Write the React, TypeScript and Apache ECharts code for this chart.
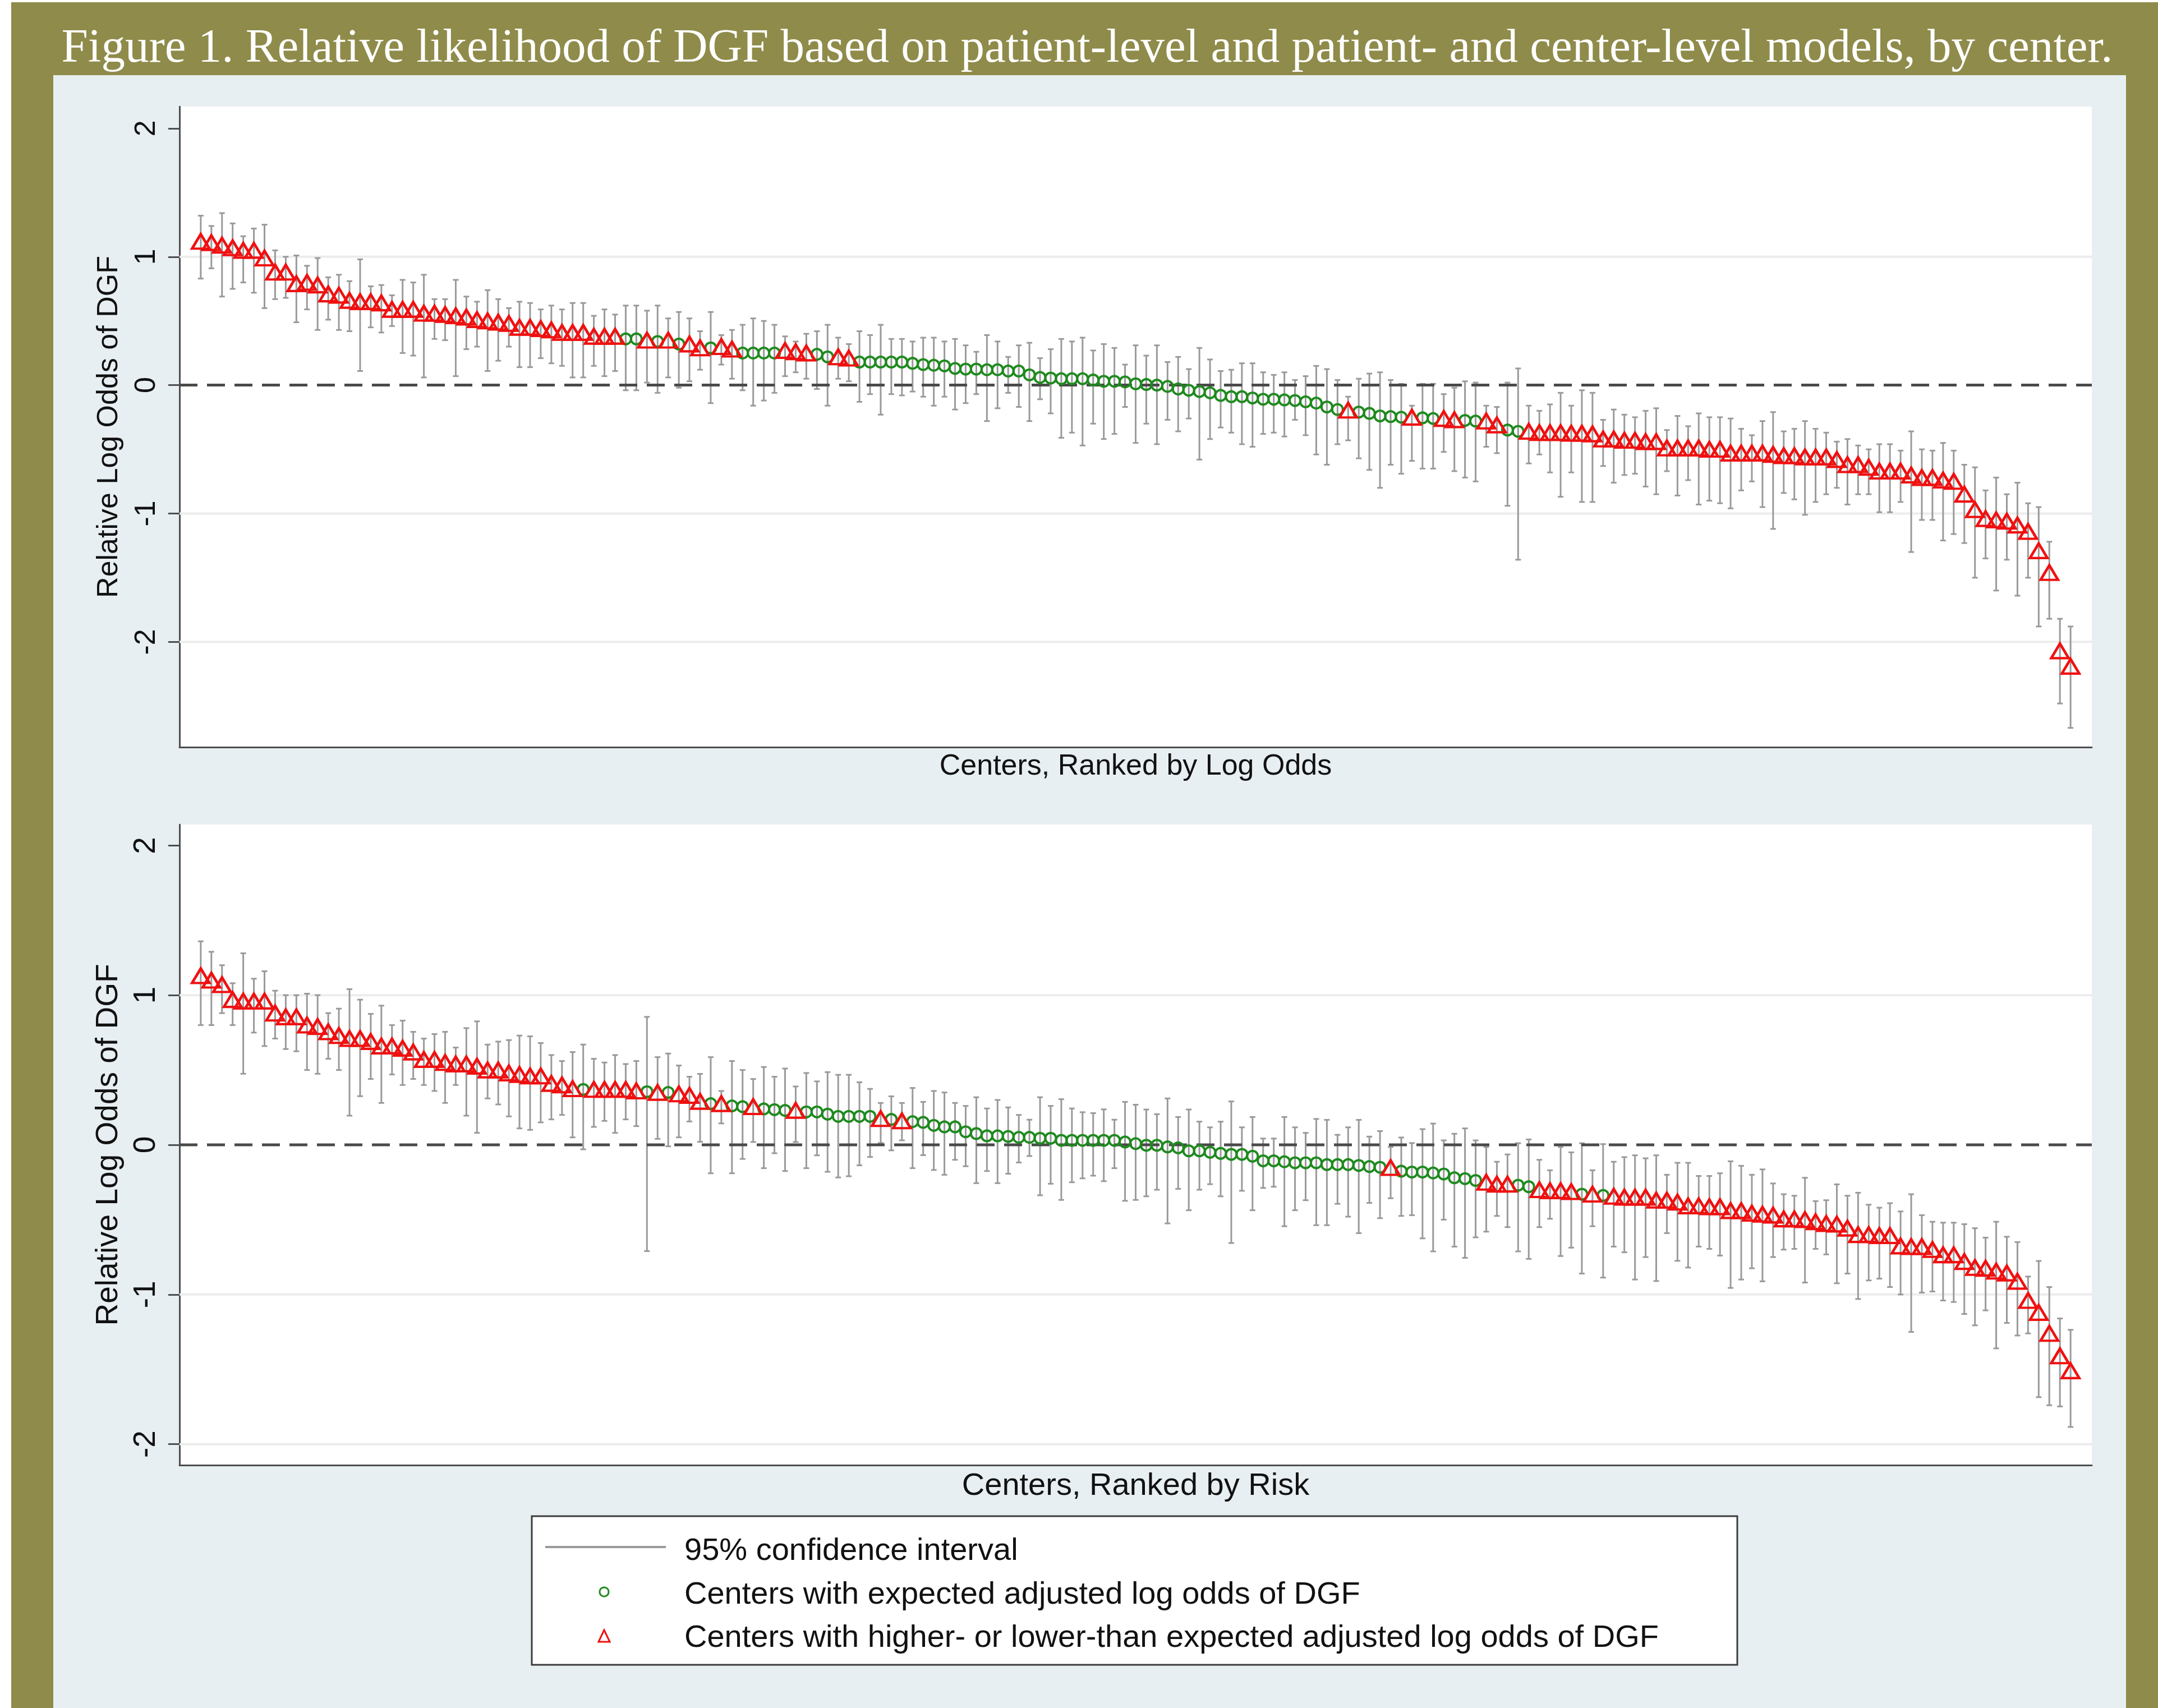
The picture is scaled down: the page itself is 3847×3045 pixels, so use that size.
import React, { useEffect, useRef } from "react";
import * as echarts from "echarts";

const W = 3847;
const H = 3045;

const TITLE =
  "Figure 1. Relative likelihood of DGF based on patient-level and patient- and center-level models, by center.";
const Y_NAME = "Relative Log Odds of DGF";
const X_NAME_TOP = "Centers, Ranked by Log Odds";
const X_NAME_BOTTOM = "Centers, Ranked by Risk";
const LEGEND_LABELS = [
  "95% confidence interval",
  "Centers with expected adjusted log odds of DGF",
  "Centers with higher- or lower-than expected adjusted log odds of DGF",
];
const Y_TICKS = [-2, -1, 0, 1, 2];
const GRID_VALUES = [1, -1, -2];
const REF_VALUES = [0];

// Top panel: patient-level model
const topEst = [
  1.12, 1.11, 1.09, 1.07, 1.05, 1.05, 0.99, 0.88, 0.88, 0.79,
  0.80, 0.78, 0.71, 0.70, 0.66, 0.65, 0.65, 0.64, 0.59, 0.59,
  0.59, 0.56, 0.56, 0.55, 0.54, 0.53, 0.51, 0.50, 0.49, 0.48,
  0.45, 0.45, 0.44, 0.43, 0.41, 0.41, 0.41, 0.38, 0.38, 0.38,
  0.36, 0.36, 0.35, 0.34, 0.35, 0.32, 0.32, 0.29, 0.29, 0.30,
  0.28, 0.25, 0.25, 0.25, 0.25, 0.27, 0.26, 0.25, 0.24, 0.22,
  0.22, 0.21, 0.18, 0.18, 0.18, 0.18, 0.18, 0.17, 0.16, 0.155,
  0.15, 0.13, 0.125, 0.125, 0.12, 0.12, 0.11, 0.11, 0.08, 0.06,
  0.055, 0.05, 0.05, 0.05, 0.04, 0.03, 0.03, 0.025, 0.01, 0.005,
  0.0, -0.01, -0.03, -0.04, -0.05, -0.06, -0.08, -0.09, -0.09, -0.10,
  -0.11, -0.11, -0.115, -0.12, -0.13, -0.14, -0.17, -0.19, -0.195, -0.21,
  -0.22, -0.24, -0.245, -0.25, -0.25, -0.255, -0.26, -0.26, -0.27, -0.275,
  -0.28, -0.28, -0.31, -0.35, -0.36, -0.36, -0.37, -0.37, -0.37, -0.375,
  -0.375, -0.38, -0.42, -0.42, -0.43, -0.43, -0.44, -0.44, -0.49, -0.49,
  -0.49, -0.49, -0.50, -0.50, -0.53, -0.53, -0.53, -0.53, -0.54, -0.55,
  -0.55, -0.56, -0.56, -0.56, -0.58, -0.62, -0.62, -0.64, -0.67, -0.67,
  -0.67, -0.70, -0.72, -0.72, -0.74, -0.75, -0.85, -0.97, -1.04, -1.05,
  -1.06, -1.09, -1.14, -1.29, -1.46, -2.07, -2.19,
];
const topLo = [
  0.83, 0.91, 0.69, 0.75, 0.80, 0.72, 0.60, 0.67, 0.68, 0.49,
  0.59, 0.43, 0.51, 0.43, 0.42, 0.11, 0.45, 0.41, 0.46, 0.25,
  0.23, 0.06, 0.36, 0.35, 0.07, 0.28, 0.30, 0.11, 0.19, 0.30,
  0.14, 0.14, 0.21, 0.17, 0.15, 0.06, 0.06, 0.15, 0.07, 0.11,
  -0.04, -0.04, 0.02, -0.06, 0.06, -0.02, 0.03, 0.12, -0.14, 0.16,
  0.05, -0.04, -0.16, -0.12, -0.06, 0.07, 0.10, 0.05, -0.03, -0.16,
  0.05, 0.03, -0.13, -0.07, -0.23, -0.07, -0.08, -0.05, -0.09, -0.16,
  -0.09, -0.19, -0.14, -0.07, -0.28, -0.18, -0.06, -0.17, -0.28, -0.11,
  -0.22, -0.41, -0.37, -0.47, -0.30, -0.42, -0.38, -0.17, -0.45, -0.30,
  -0.46, -0.27, -0.36, -0.26, -0.58, -0.42, -0.33, -0.37, -0.46, -0.48,
  -0.38, -0.37, -0.40, -0.27, -0.39, -0.54, -0.62, -0.46, -0.43, -0.57,
  -0.66, -0.80, -0.62, -0.69, -0.59, -0.65, -0.65, -0.52, -0.67, -0.72,
  -0.75, -0.48, -0.53, -0.94, -1.36, -0.61, -0.54, -0.68, -0.87, -0.68,
  -0.91, -0.91, -0.63, -0.76, -0.70, -0.69, -0.79, -0.85, -0.67, -0.86,
  -0.74, -0.93, -0.90, -0.92, -0.96, -0.82, -0.75, -0.95, -1.12, -0.84,
  -0.89, -1.01, -0.91, -0.85, -0.80, -0.93, -0.85, -0.85, -0.99, -0.99,
  -0.91, -1.30, -1.05, -1.05, -1.21, -1.16, -1.23, -1.50, -1.35, -1.60,
  -1.36, -1.64, -1.50, -1.88, -1.82, -2.48, -2.67,
];
const topHi = [
  1.32, 1.24, 1.34, 1.26, 1.16, 1.22, 1.25, 1.05, 1.00, 1.01,
  0.93, 0.99, 0.84, 0.86, 0.81, 0.98, 0.77, 0.78, 0.70, 0.82,
  0.80, 0.86, 0.67, 0.67, 0.82, 0.69, 0.65, 0.74, 0.67, 0.60,
  0.65, 0.64, 0.59, 0.62, 0.59, 0.64, 0.64, 0.54, 0.59, 0.55,
  0.62, 0.62, 0.58, 0.62, 0.52, 0.57, 0.52, 0.42, 0.57, 0.39,
  0.43, 0.47, 0.52, 0.50, 0.47, 0.38, 0.34, 0.40, 0.42, 0.47,
  0.37, 0.32, 0.42, 0.39, 0.47, 0.36, 0.36, 0.34, 0.37, 0.37,
  0.34, 0.36, 0.31, 0.26, 0.39, 0.34, 0.22, 0.31, 0.33, 0.21,
  0.28, 0.36, 0.34, 0.37, 0.27, 0.32, 0.29, 0.16, 0.31, 0.23,
  0.31, 0.18, 0.22, 0.125, 0.29, 0.20, 0.11, 0.12, 0.17, 0.17,
  0.10, 0.08, 0.10, 0.04, 0.07, 0.15, 0.125, 0.04, -0.09, 0.05,
  0.09, 0.10, 0.04, 0.01, -0.16, 0.01, 0.01, -0.07, -0.02, 0.03,
  0.02, -0.16, -0.17, 0.02, 0.13, -0.16, -0.20, -0.15, -0.06, -0.16,
  -0.04, -0.06, -0.27, -0.19, -0.23, -0.25, -0.20, -0.18, -0.35, -0.24,
  -0.32, -0.22, -0.25, -0.25, -0.26, -0.34, -0.39, -0.28, -0.21, -0.36,
  -0.34, -0.28, -0.34, -0.37, -0.44, -0.42, -0.47, -0.50, -0.46, -0.46,
  -0.51, -0.36, -0.50, -0.51, -0.45, -0.51, -0.62, -0.64, -0.82, -0.72,
  -0.85, -0.76, -0.92, -0.95, -1.22, -1.82, -1.88,
];

// Bottom panel: patient- and center-level model
const botEst = [
  1.13, 1.10, 1.07, 0.97, 0.96, 0.96, 0.96, 0.88, 0.855, 0.855,
  0.80, 0.79, 0.755, 0.73, 0.71, 0.71, 0.69, 0.66, 0.66, 0.645,
  0.62, 0.57, 0.57, 0.55, 0.54, 0.54, 0.525, 0.50, 0.50, 0.48,
  0.47, 0.46, 0.46, 0.41, 0.40, 0.375, 0.37, 0.37, 0.37, 0.37,
  0.37, 0.36, 0.355, 0.35, 0.35, 0.34, 0.33, 0.29, 0.275, 0.275,
  0.26, 0.255, 0.255, 0.24, 0.235, 0.23, 0.23, 0.22, 0.22, 0.205,
  0.19, 0.19, 0.19, 0.19, 0.175, 0.17, 0.16, 0.155, 0.15, 0.13,
  0.12, 0.12, 0.087, 0.075, 0.06, 0.06, 0.056, 0.05, 0.05, 0.044,
  0.044, 0.03, 0.03, 0.03, 0.03, 0.03, 0.03, 0.019, 0.008, -0.003,
  -0.003, -0.014, -0.02, -0.04, -0.04, -0.05, -0.057, -0.064, -0.064, -0.076,
  -0.107, -0.107, -0.113, -0.12, -0.12, -0.12, -0.132, -0.132, -0.132, -0.138,
  -0.145, -0.15, -0.152, -0.176, -0.182, -0.182, -0.188, -0.195, -0.22, -0.226,
  -0.238, -0.25, -0.263, -0.263, -0.27, -0.28, -0.30, -0.307, -0.307, -0.313,
  -0.33, -0.33, -0.338, -0.344, -0.35, -0.35, -0.35, -0.37, -0.37, -0.383,
  -0.408, -0.408, -0.414, -0.414, -0.44, -0.44, -0.457, -0.464, -0.47, -0.495,
  -0.495, -0.50, -0.514, -0.526, -0.53, -0.557, -0.60, -0.60, -0.607, -0.607,
  -0.676, -0.68, -0.68, -0.70, -0.735, -0.735, -0.78, -0.82, -0.825, -0.844,
  -0.857, -0.912, -1.04, -1.12, -1.26, -1.41, -1.51,
];
const botLo = [
  0.80, 0.80, 0.88, 0.80, 0.475, 0.75, 0.66, 0.71, 0.64, 0.625,
  0.50, 0.475, 0.575, 0.50, 0.195, 0.325, 0.44, 0.28, 0.47, 0.40,
  0.44, 0.40, 0.36, 0.28, 0.40, 0.195, 0.08, 0.31, 0.27, 0.19,
  0.11, 0.10, 0.15, 0.17, 0.20, 0.05, -0.03, 0.12, 0.16, 0.08,
  0.17, 0.125, -0.71, 0.04, -0.01, 0.05, 0.156, 0.02, -0.19, 0.143,
  -0.19, -0.094, 0.019, -0.156, -0.056, -0.175, 0.019, -0.156, -0.07, -0.18,
  -0.218, -0.21, -0.137, -0.081, 0.012, -0.037, 0.03, -0.156, -0.069, -0.168,
  -0.20, -0.10, -0.143, -0.256, -0.175, -0.256, -0.193, -0.118, -0.075, -0.337,
  -0.26, -0.368, -0.25, -0.224, -0.206, -0.243, -0.156, -0.374, -0.368, -0.344,
  -0.30, -0.525, -0.294, -0.437, -0.30, -0.263, -0.344, -0.656, -0.307, -0.437,
  -0.288, -0.28, -0.544, -0.437, -0.37, -0.537, -0.537, -0.394, -0.48, -0.59,
  -0.388, -0.49, -0.357, -0.475, -0.47, -0.625, -0.712, -0.50, -0.68, -0.755,
  -0.618, -0.58, -0.475, -0.55, -0.712, -0.762, -0.55, -0.494, -0.743, -0.687,
  -0.86, -0.544, -0.887, -0.68, -0.718, -0.90, -0.75, -0.91, -0.59, -0.775,
  -0.82, -0.68, -0.695, -0.74, -0.956, -0.90, -0.825, -0.912, -0.75, -0.70,
  -0.695, -0.92, -0.695, -0.732, -0.925, -0.86, -1.03, -0.906, -0.894, -0.95,
  -1.0, -1.25, -0.987, -0.98, -1.04, -1.05, -1.13, -1.206, -1.106, -1.36,
  -1.19, -1.274, -1.26, -1.686, -1.74, -1.748, -1.885,
];
const botHi = [
  1.36, 1.29, 1.20, 1.08, 1.28, 1.11, 1.16, 1.03, 1.0, 1.0,
  1.01, 1.0, 0.88, 0.91, 1.04, 0.97, 0.875, 0.93, 0.80, 0.83,
  0.755, 0.71, 0.74, 0.755, 0.65, 0.78, 0.825, 0.67, 0.69, 0.70,
  0.73, 0.725, 0.68, 0.60, 0.56, 0.62, 0.67, 0.575, 0.55, 0.60,
  0.54, 0.56, 0.855, 0.586, 0.61, 0.53, 0.455, 0.474, 0.586, 0.36,
  0.56, 0.50, 0.44, 0.52, 0.455, 0.51, 0.39, 0.48, 0.424, 0.486,
  0.468, 0.468, 0.418, 0.374, 0.28, 0.324, 0.28, 0.38, 0.287, 0.36,
  0.35, 0.28, 0.26, 0.318, 0.243, 0.30, 0.25, 0.20, 0.168, 0.318,
  0.26, 0.305, 0.243, 0.218, 0.212, 0.237, 0.168, 0.287, 0.268, 0.236,
  0.205, 0.31, 0.186, 0.236, 0.155, 0.117, 0.155, 0.29, 0.117, 0.186,
  0.042, 0.042, 0.186, 0.117, 0.08, 0.173, 0.167, 0.067, 0.117, 0.167,
  0.055, 0.092, -0.014, 0.049, 0.012, 0.105, 0.142, 0.03, 0.074, 0.11,
  0.03, -0.014, -0.113, -0.064, 0.011, 0.036, -0.10, -0.17, -0.014, -0.05,
  0.011, -0.17, 0.005, -0.113, -0.082, -0.07, -0.09, -0.07, -0.20, -0.12,
  -0.12, -0.208, -0.208, -0.19, -0.11, -0.14, -0.20, -0.164, -0.258, -0.33,
  -0.34, -0.22, -0.376, -0.37, -0.264, -0.34, -0.32, -0.40, -0.42, -0.39,
  -0.445, -0.33, -0.47, -0.514, -0.52, -0.52, -0.53, -0.557, -0.62, -0.514,
  -0.614, -0.65, -0.88, -0.776, -0.95, -1.16, -1.236,
];

const OLIVE = "#8F8B4A";
const PANEL = "#E8EFF2";
const AXIS = "#4D4D4D";
const CI_COLOR = "#9A9A9A";
const GREEN = "#1E8A1E";
const RED = "#F01010";
const GRIDLINE = "#ECECEC";
const SANS = "'Liberation Sans', Arial, sans-serif";
const SERIF = "'Liberation Serif', 'Times New Roman', serif";

function buildPanel(est: number[], lo: number[], hi: number[]) {
  const ci: number[][] = [];
  const expected: number[][] = [];
  const outlier: number[][] = [];
  est.forEach((v, i) => {
    const rank = i + 1;
    ci.push([rank, lo[i], hi[i]]);
    const sig = lo[i] > 0 || hi[i] < 0;
    (sig ? outlier : expected).push([rank, v]);
  });
  return { ci, expected, outlier };
}

const ciRender = (params: any, api: any) => {
  const x = api.value(0);
  const pLo = api.coord([x, api.value(1)]);
  const pHi = api.coord([x, api.value(2)]);
  const cap = 5;
  const style = { stroke: CI_COLOR, lineWidth: 3 };
  return {
    type: "group",
    children: [
      { type: "line", shape: { x1: pLo[0], y1: pLo[1], x2: pHi[0], y2: pHi[1] }, style },
      { type: "line", shape: { x1: pLo[0] - cap, y1: pLo[1], x2: pLo[0] + cap, y2: pLo[1] }, style },
      { type: "line", shape: { x1: pHi[0] - cap, y1: pHi[1], x2: pHi[0] + cap, y2: pHi[1] }, style },
    ],
  };
};

const hLineRender = (stroke: string, lineWidth: number, lineDash?: number[]) => (params: any, api: any) => {
  const y = api.coord([0, api.value(1)])[1];
  const cs = params.coordSys;
  return {
    type: "line",
    shape: { x1: cs.x, y1: y, x2: cs.x + cs.width, y2: y },
    style: { stroke, lineWidth, lineDash: lineDash || null },
  };
};

function panelSeries(k: number, est: number[], lo: number[], hi: number[]) {
  const p = buildPanel(est, lo, hi);
  return [
    {
      type: "custom",
      name: "grid",
      xAxisIndex: k,
      yAxisIndex: k,
      silent: true,
      z: 1,
      data: GRID_VALUES.map((v) => [0, v]),
      encode: { x: 0, y: 1 },
      renderItem: hLineRender(GRIDLINE, 4),
    },
    {
      type: "custom",
      name: LEGEND_LABELS[0],
      xAxisIndex: k,
      yAxisIndex: k,
      silent: true,
      z: 2,
      data: p.ci,
      encode: { x: 0, y: [1, 2] },
      renderItem: ciRender,
    },
    {
      type: "custom",
      name: "reference",
      xAxisIndex: k,
      yAxisIndex: k,
      silent: true,
      z: 3,
      data: REF_VALUES.map((v) => [0, v]),
      encode: { x: 0, y: 1 },
      renderItem: hLineRender("#4A4A4A", 5, [32, 17]),
    },
    {
      type: "scatter",
      name: LEGEND_LABELS[1],
      xAxisIndex: k,
      yAxisIndex: k,
      silent: true,
      z: 4,
      symbol: "circle",
      symbolSize: 19,
      itemStyle: { color: "transparent", borderColor: GREEN, borderWidth: 4, opacity: 1 },
      data: p.expected,
    },
    {
      type: "scatter",
      name: LEGEND_LABELS[2],
      xAxisIndex: k,
      yAxisIndex: k,
      silent: true,
      z: 5,
      symbol: "triangle",
      symbolSize: [31, 26],
      itemStyle: { color: "transparent", borderColor: RED, borderWidth: 4.5, opacity: 1 },
      data: p.outlier,
    },
  ];
}

function xAxisCfg(k: number, name: string, fontSize: number) {
  return {
    gridIndex: k,
    type: "value",
    min: -1,
    max: 179,
    axisLine: { show: true, onZero: false, lineStyle: { color: AXIS, width: 3 } },
    axisTick: { show: false },
    axisLabel: { show: false },
    splitLine: { show: false },
    name,
    nameLocation: "middle",
    nameGap: 5,
    nameTextStyle: { fontFamily: SANS, fontSize, color: "#111" },
  };
}

function yAxisCfg(k: number, min: number, max: number, fontSize: number) {
  return {
    gridIndex: k,
    type: "value",
    min,
    max,
    axisLine: { show: true, onZero: false, lineStyle: { color: AXIS, width: 3 } },
    axisTick: { show: true, length: 20, customValues: Y_TICKS, lineStyle: { color: AXIS, width: 3 } },
    axisLabel: {
      customValues: Y_TICKS,
      rotate: 90,
      margin: 36,
      fontFamily: SANS,
      fontSize,
      color: "#111",
    },
    splitLine: { show: false },
    name: Y_NAME,
    nameLocation: "middle",
    nameRotate: 90,
    nameGap: 103,
    nameTextStyle: { fontFamily: SANS, fontSize, color: "#111" },
  };
}

function legendGraphics() {
  const lx = 948, ly = 2703, lw = 2149, lh = 265;
  const mx = 1077;
  const textX = 1220;
  const rows = [2761, 2839, 2916];
  const els: any[] = [
    { type: "rect", z: 10, shape: { x: lx, y: ly, width: lw, height: lh }, style: { fill: "#FFFFFF", stroke: "#3C3C3C", lineWidth: 3 } },
    { type: "line", z: 11, shape: { x1: 972, y1: 2758, x2: 1187, y2: 2758 }, style: { stroke: CI_COLOR, lineWidth: 4 } },
    { type: "circle", z: 11, shape: { cx: mx, cy: 2838, r: 8 }, style: { fill: "none", stroke: GREEN, lineWidth: 3 } },
    { type: "polygon", z: 11, shape: { points: [[mx, 2906], [mx - 10, 2927], [mx + 10, 2927]] }, style: { fill: "none", stroke: RED, lineWidth: 3 } },
  ];
  LEGEND_LABELS.forEach((t, i) => {
    els.push({
      type: "text",
      z: 11,
      x: textX,
      y: rows[i],
      style: { text: t, fontFamily: SANS, fontSize: 56, fill: "#111", textAlign: "left", textVerticalAlign: "middle", verticalAlign: "middle" },
    });
  });
  return els;
}

export default function App() {
  const ref = useRef<HTMLDivElement>(null);
  useEffect(() => {
    if (!ref.current) return;
    const chart = echarts.init(ref.current, null, { renderer: "svg", width: W, height: H });
    const option: any = {
      animation: false,
      backgroundColor: "#FFFFFF",
      title: {
        text: TITLE,
        left: 1938,
        top: 38,
        textAlign: "center",
        padding: 0,
        textStyle: { fontFamily: SERIF, fontSize: 85, fontWeight: "normal", color: "#FFFFFF" },
      },
      grid: [
        { left: 320, top: 190, width: 3409, height: 1142, show: true, backgroundColor: "#FFFFFF", borderWidth: 0 },
        { left: 320, top: 1470, width: 3409, height: 1142, show: true, backgroundColor: "#FFFFFF", borderWidth: 0 },
      ],
      xAxis: [xAxisCfg(0, X_NAME_TOP, 52), xAxisCfg(1, X_NAME_BOTTOM, 56)],
      yAxis: [yAxisCfg(0, -2.82, 2.17, 52), yAxisCfg(1, -2.14, 2.14, 55)],
      series: [...panelSeries(0, topEst, topLo, topHi), ...panelSeries(1, botEst, botLo, botHi)],
      graphic: [
        { type: "rect", z: -20, silent: true, shape: { x: 20, y: 4, width: W - 20, height: H - 4 }, style: { fill: OLIVE } },
        { type: "rect", z: -19, silent: true, shape: { x: 95, y: 134, width: 3695, height: H - 134 }, style: { fill: PANEL } },
        ...legendGraphics(),
      ],
    };
    chart.setOption(option);
    return () => chart.dispose();
  }, []);
  return <div ref={ref} style={{ position: "absolute", left: 0, top: 0, width: W, height: H }} />;
}
